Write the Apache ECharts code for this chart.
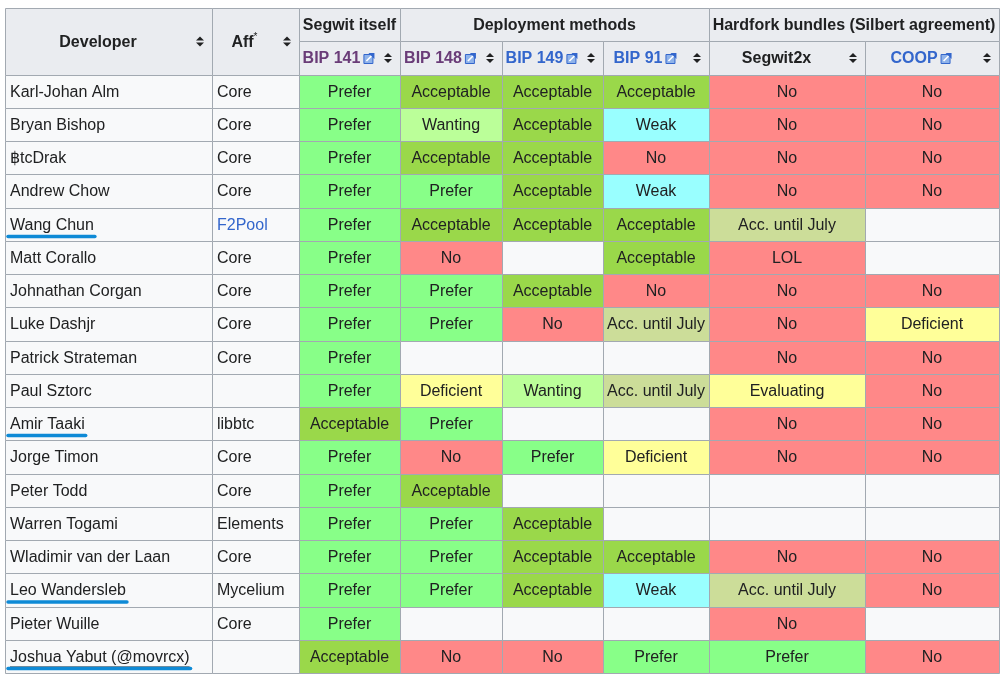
<!DOCTYPE html>
<html>
<head>
<meta charset="utf-8">
<title>Segwit support by developer</title>
<script src="https://cdn.jsdelivr.net/npm/echarts@6/dist/echarts.min.js"></script>
<style>
html, body { margin: 0; padding: 0; background: #fff; }
#main { width: 1004px; height: 678px; }
</style>
</head>
<body>
<div id="main"></div>
<script>
// table data
var developers = ['Karl-Johan Alm', 'Bryan Bishop', '\u0E3FtcDrak', 'Andrew Chow', 'Wang Chun', 'Matt Corallo',
    'Johnathan Corgan', 'Luke Dashjr', 'Patrick Strateman', 'Paul Sztorc', 'Amir Taaki', 'Jorge Timon',
    'Peter Todd', 'Warren Togami', 'Wladimir van der Laan', 'Leo Wandersleb', 'Pieter Wuille', 'Joshua Yabut (@movrcx)'];
var affiliations = ['Core', 'Core', 'Core', 'Core', 'F2Pool', 'Core', 'Core', 'Core', 'Core', '', 'libbtc', 'Core',
    'Core', 'Elements', 'Core', 'Mycelium', 'Core', ''];
var bip141 = ['Prefer', 'Prefer', 'Prefer', 'Prefer', 'Prefer', 'Prefer', 'Prefer', 'Prefer', 'Prefer', 'Prefer',
    'Acceptable', 'Prefer', 'Prefer', 'Prefer', 'Prefer', 'Prefer', 'Prefer', 'Acceptable'];
var bip148 = ['Acceptable', 'Wanting', 'Acceptable', 'Prefer', 'Acceptable', 'No', 'Prefer', 'Prefer', '', 'Deficient',
    'Prefer', 'No', 'Acceptable', 'Prefer', 'Prefer', 'Prefer', '', 'No'];
var bip149 = ['Acceptable', 'Acceptable', 'Acceptable', 'Acceptable', 'Acceptable', '', 'Acceptable', 'No', '', 'Wanting',
    '', 'Prefer', '', 'Acceptable', 'Acceptable', 'Acceptable', '', 'No'];
var bip91 = ['Acceptable', 'Weak', 'No', 'Weak', 'Acceptable', 'Acceptable', 'No', 'Acc. until July', '', 'Acc. until July',
    '', 'Deficient', '', '', 'Acceptable', 'Weak', '', 'Prefer'];
var segwit2x = ['No', 'No', 'No', 'No', 'Acc. until July', 'LOL', 'No', 'No', 'No', 'Evaluating',
    'No', 'No', '', '', 'No', 'Acc. until July', 'No', 'Prefer'];
var coop = ['No', 'No', 'No', 'No', '', '', 'No', 'Deficient', 'No', 'No',
    'No', 'No', '', '', 'No', 'No', '', 'No'];
var proposals = ['BIP 141', 'BIP 148', 'BIP 149', 'BIP 91', 'Segwit2x', 'COOP'];
var groups = [['Segwit itself', 2, 2], ['Deployment methods', 3, 5], ['Hardfork bundles (Silbert agreement)', 6, 7]];
var marked = ['Wang Chun', 'Amir Taaki', 'Leo Wandersleb', 'Joshua Yabut (@movrcx)'];

// look
var colEdges = [0, 207, 294, 395, 497, 598, 704, 860, 994];
var FONT = "'Liberation Sans', Arial, sans-serif";
var SIZE = 16;
var statusColors = {
    'Prefer': '#8f8', 'Acceptable': '#9ad84a', 'Wanting': '#bf9', 'Weak': '#9ff', 'No': '#f88', 'LOL': '#f88',
    'Acc. until July': '#cd9', 'Deficient': '#ff9', 'Evaluating': '#ff9'
};
var visited = '#6a3c78', link = '#3366cc', ink = '#202122';
var headColors = [visited, visited, link, link, ink, link];

var measure = document.createElement('canvas').getContext('2d');
function textWidth(txt, weight, size) {
    measure.font = weight + ' ' + size + 'px ' + FONT;
    return measure.measureText(txt).width;
}

// build the cell list
var cells = [];
cells.push({c0: 0, c1: 0, r0: 0, r1: 1, text: 'Developer', head: true, sort: true});
cells.push({c0: 1, c1: 1, r0: 0, r1: 1, text: 'Aff', sup: '*', head: true, sort: true});
groups.forEach(function (g) {
    cells.push({c0: g[1], c1: g[2], r0: 0, r1: 0, text: g[0], head: true});
});
proposals.forEach(function (p, i) {
    cells.push({c0: i + 2, c1: i + 2, r0: 1, r1: 1, text: p, head: true, sort: true,
        color: headColors[i], ext: headColors[i] !== ink});
});
var statusCols = [bip141, bip148, bip149, bip91, segwit2x, coop];
developers.forEach(function (name, i) {
    cells.push({c0: 0, c1: 0, r0: i + 2, r1: i + 2, text: name, left: true,
        mark: marked.indexOf(name) >= 0, under: name.indexOf('@') >= 0});
    cells.push({c0: 1, c1: 1, r0: i + 2, r1: i + 2, text: affiliations[i], left: true,
        color: affiliations[i] === 'F2Pool' ? link : ink});
    statusCols.forEach(function (col, j) {
        cells.push({c0: j + 2, c1: j + 2, r0: i + 2, r1: i + 2, text: col[i], status: true});
    });
});

function sortIcons(cx, cy) {
    return [
        {type: 'polygon', shape: {points: [[cx - 4, cy - 1], [cx + 4, cy - 1], [cx, cy - 5]]}, style: {fill: ink}},
        {type: 'polygon', shape: {points: [[cx - 4, cy + 1], [cx + 4, cy + 1], [cx, cy + 5]]}, style: {fill: ink}}
    ];
}
function extIcon(x, cy) {
    return [
        {type: 'rect', shape: {x: x + 0.5, y: cy - 3.5, width: 9, height: 9}, style: {fill: '#8fb3ea', stroke: '#36c', lineWidth: 1}},
        {type: 'line', shape: {x1: x + 3, y1: cy + 3, x2: x + 9, y2: cy - 3}, style: {stroke: '#fff', lineWidth: 1.6}},
        {type: 'polygon', shape: {points: [[x + 5, cy - 5], [x + 11, cy - 5], [x + 11, cy + 1]]}, style: {fill: '#36c'}}
    ];
}

function renderCell(params, api) {
    var cell = cells[api.value(4)];
    var p0 = api.coord([api.value(0), api.value(2)]);
    var p1 = api.coord([api.value(1), api.value(3)]);
    var x = Math.round(p0[0]), y = Math.round(p0[1]);
    var w = Math.round(p1[0]) - x, h = Math.round(p1[1]) - y;
    var cy = y + h / 2;
    var fill = cell.head ? '#eaecf0' : (cell.status && cell.text ? statusColors[cell.text] : '#f8f9fa');
    var kids = [{type: 'rect', shape: {x: x + 0.5, y: y + 0.5, width: w, height: h},
        style: {fill: fill, stroke: '#a2a9b1', lineWidth: 1}}];

    if (cell.head) {
        var right = cell.sort ? x + w - 21 : x + w;
        var tw = textWidth(cell.text, 'bold', SIZE);
        var total = tw + (cell.ext ? 15 : 0) + (cell.sup ? 5 : 0);
        var sx = (x + right) / 2 - total / 2;
        kids.push({type: 'text', style: {text: cell.text, x: sx, y: cy + 1, align: 'left', verticalAlign: 'middle',
            fontSize: SIZE, fontWeight: 'bold', fontFamily: FONT, fill: cell.color || ink}});
        if (cell.sup) {
            kids.push({type: 'text', style: {text: cell.sup, x: sx + tw, y: cy - 4, align: 'left', verticalAlign: 'middle',
                fontSize: 10, fontFamily: FONT, fill: ink}});
        }
        if (cell.ext) kids = kids.concat(extIcon(sx + tw + 3, cy));
        if (cell.sort) kids = kids.concat(sortIcons(x + w - 12, cy));
    } else if (cell.text) {
        var tx = cell.left ? x + 5 : x + w / 2;
        kids.push({type: 'text', style: {text: cell.text, x: tx, y: cy + 1, align: cell.left ? 'left' : 'center',
            verticalAlign: 'middle', fontSize: SIZE, fontFamily: FONT, fill: cell.color || ink}});
        var nw = textWidth(cell.text, 'normal', SIZE);
        if (cell.under) {
            kids.push({type: 'line', shape: {x1: x + 5, y1: cy + 10.5, x2: x + 5 + nw, y2: cy + 10.5},
                style: {stroke: ink, lineWidth: 1}});
        }
        if (cell.mark) {
            kids.push({type: 'line', shape: {x1: x + 3, y1: cy + 12, x2: x + 6 + nw, y2: cy + 12},
                style: {stroke: '#0e8ad6', lineWidth: 3.5, lineCap: 'round'}});
        }
    }
    return {type: 'group', children: kids};
}

var chart = echarts.init(document.getElementById('main'), null, {renderer: 'canvas'});
chart.setOption({
    animation: false,
    grid: {left: 5, top: 8, width: 994, height: 665},
    xAxis: {type: 'value', min: 0, max: 994, show: false},
    yAxis: {type: 'value', min: 0, max: 20, inverse: true, show: false},
    series: [{
        type: 'custom',
        renderItem: renderCell,
        clip: false,
        data: cells.map(function (c, i) {
            return [colEdges[c.c0], colEdges[c.c1 + 1], c.r0, c.r1 + 1, i];
        })
    }]
});
</script>
</body>
</html>
